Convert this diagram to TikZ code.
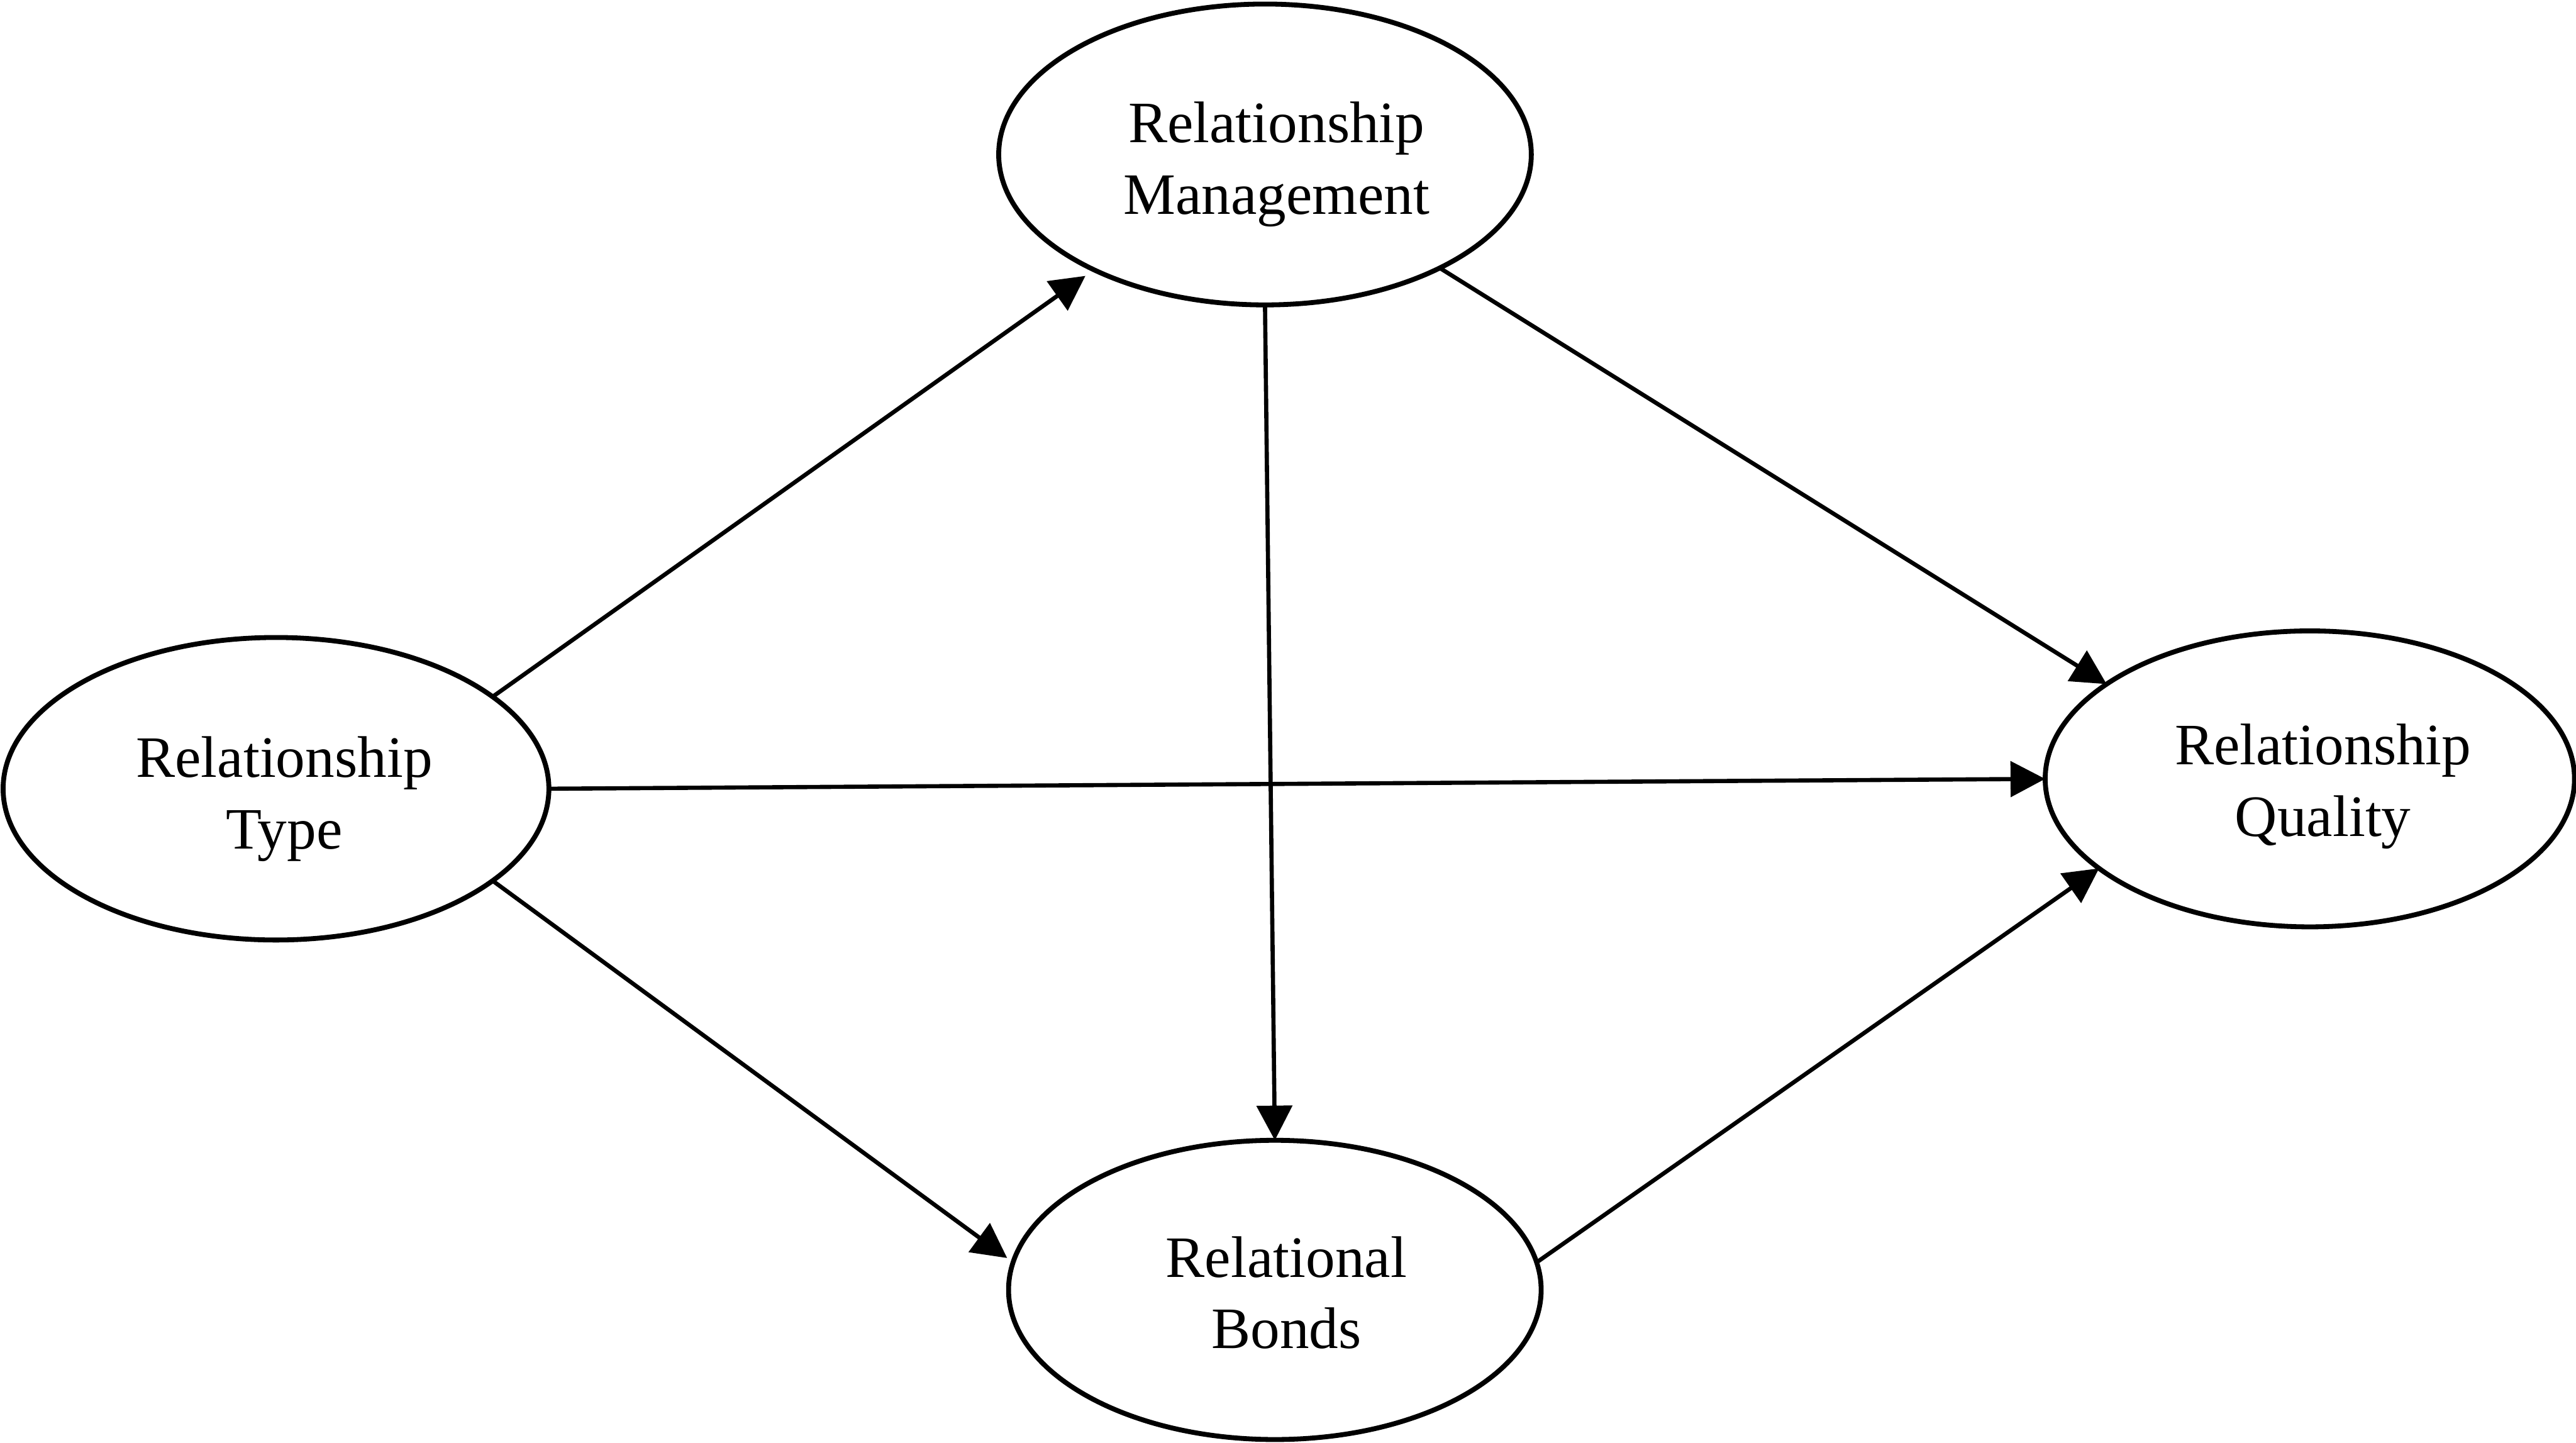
\documentclass[tikz,border=0pt]{standalone}
\usepackage{fontspec}
\setmainfont{Liberation Serif}
\usetikzlibrary{shapes.geometric,arrows.meta}
\begin{document}
\begin{tikzpicture}[x=0.01cm,y=0.01cm,
  construct/.style={draw, ellipse, line width=0.85pt, inner sep=0pt, outer sep=0pt},
  caption/.style={align=center, font=\fontsize{10.15}{12.4}\selectfont, inner sep=0pt},
  link/.style={line width=0.72pt, -{Triangle[length=6pt,width=6.1pt]}}
]
\useasboundingbox (0,0) rectangle (1568,-878);

% constructs
\node[construct, minimum width=3.24cm, minimum height=1.83cm] (rm) at (770,-94) {};
\node[construct, minimum width=3.32cm, minimum height=1.84cm] (rt) at (168,-480) {};
\node[construct, minimum width=3.22cm, minimum height=1.80cm] (rq) at (1406,-474) {};
\node[construct, minimum width=3.24cm, minimum height=1.82cm] (rb) at (776,-785) {};

% construct names
\node[caption] (rm-t) at (777,-99.9) {Relationship\\Management};
\node[caption] (rt-t) at (173,-486.2) {Relationship\\Type};
\node[caption] (rq-t) at (1414,-478.6) {Relationship\\Quality};
\node[caption] (rb-t) at (783,-790.4) {Relational\\\vphantom{g}Bonds};

% paths between constructs
\draw[link, shorten >=0.064cm] (rt.23.8) -- (rm.214.1);
\draw[link] (rt.0) -- (rq.180);
\draw[link, shorten >=0.045cm] (rt.-23.1) -- (rb.174.5);
\draw[link] (rm.south) -- (rb.north);
\draw[link] (rm.-33.6) -- (rq.155.9);
\draw[link] (rb.6.75) -- (rq.203.1);
\end{tikzpicture}
\end{document}
